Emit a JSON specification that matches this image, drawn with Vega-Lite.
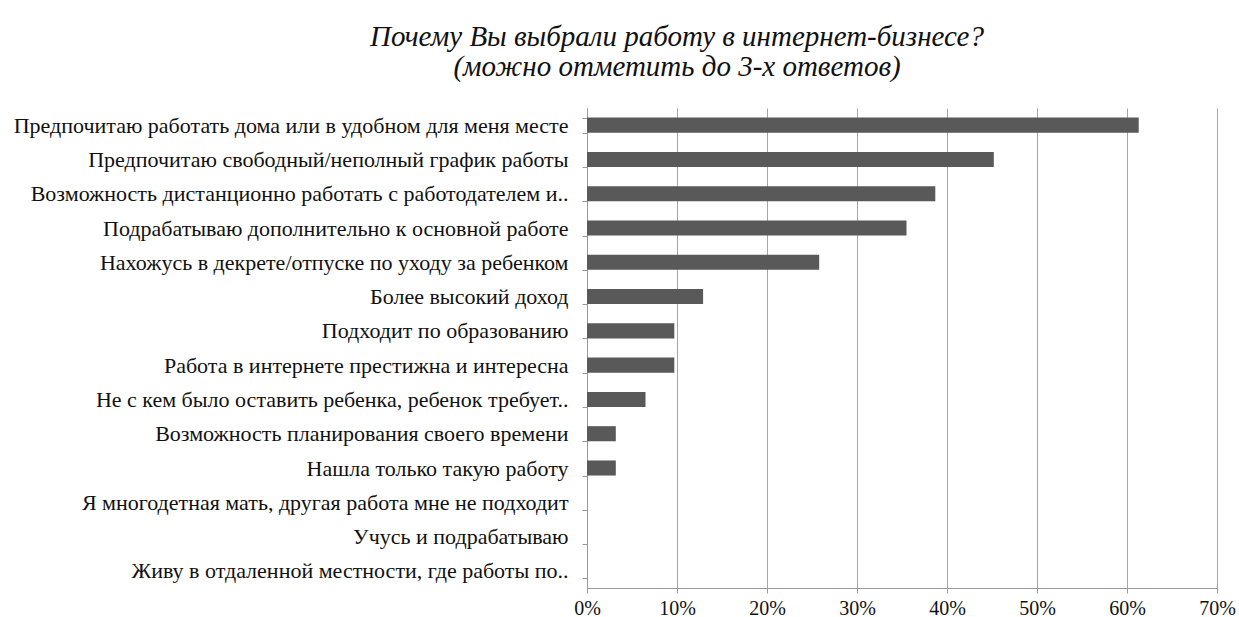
{
  "$schema": "https://vega.github.io/schema/vega-lite/v6.json",
  "autosize": {"type": "none"},
  "padding": {"left": 587, "top": 108, "right": 22, "bottom": 29},
  "width": 630,
  "height": 480,
  "background": "white",
  "title": {
    "text": ["Почему Вы выбрали работу в интернет-бизнесе?", "(можно отметить до 3-х ответов)"],
    "font": "Liberation Serif",
    "fontStyle": "italic",
    "fontWeight": "normal",
    "fontSize": 29,
    "lineHeight": 30,
    "color": "#111111",
    "anchor": "middle",
    "frame": "group",
    "dx": -225,
    "offset": 15
  },
  "data": {
    "values": [
      {"reason": "Предпочитаю работать дома или в удобном для меня месте", "share": 0.613},
      {"reason": "Предпочитаю свободный/неполный график работы", "share": 0.452},
      {"reason": "Возможность дистанционно работать с работодателем и..", "share": 0.387},
      {"reason": "Подрабатываю дополнительно к основной работе", "share": 0.355},
      {"reason": "Нахожусь в декрете/отпуске по уходу за ребенком", "share": 0.258},
      {"reason": "Более высокий доход", "share": 0.129},
      {"reason": "Подходит по образованию", "share": 0.097},
      {"reason": "Работа в интернете престижна и интересна", "share": 0.097},
      {"reason": "Не с кем было оставить ребенка, ребенок требует..", "share": 0.065},
      {"reason": "Возможность планирования своего времени", "share": 0.032},
      {"reason": "Нашла только такую работу", "share": 0.032},
      {"reason": "Я многодетная мать, другая работа мне не подходит", "share": 0},
      {"reason": "Учусь и подрабатываю", "share": 0},
      {"reason": "Живу в отдаленной местности, где работы по..", "share": 0}
    ]
  },
  "mark": {"type": "bar", "color": "#595959"},
  "encoding": {
    "y": {
      "field": "reason",
      "type": "nominal",
      "sort": null,
      "scale": {"paddingInner": 0.56, "paddingOuter": 0.28},
      "axis": {
        "title": null,
        "labelFont": "Liberation Serif",
        "labelFontSize": 22,
        "labelColor": "#111111",
        "labelLimit": 600,
        "labelPadding": 14,
        "tickBand": "extent",
        "tickSize": 5,
        "tickColor": "#9a9a9a",
        "domainColor": "#9a9a9a",
        "grid": false
      }
    },
    "x": {
      "field": "share",
      "type": "quantitative",
      "scale": {"domain": [0, 0.7], "nice": false},
      "axis": {
        "title": null,
        "format": ".0%",
        "values": [0, 0.1, 0.2, 0.3, 0.4, 0.5, 0.6, 0.7],
        "labelFont": "Liberation Serif",
        "labelFontSize": 20,
        "labelColor": "#111111",
        "labelPadding": 5,
        "labelFlush": false,
        "labelOverlap": false,
        "tickSize": 5,
        "tickColor": "#9a9a9a",
        "domainColor": "#9a9a9a",
        "grid": true,
        "gridColor": "#a6a6a6",
        "gridWidth": 1
      }
    }
  },
  "config": {"view": {"stroke": null}}
}
